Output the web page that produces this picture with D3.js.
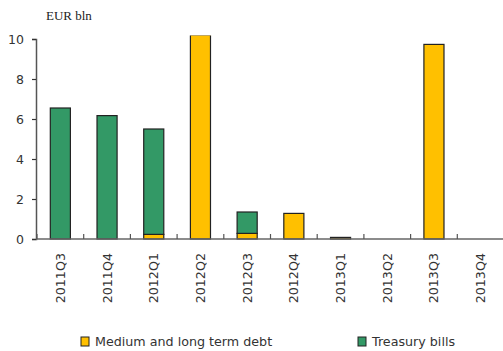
<!DOCTYPE html>
<html><head><meta charset="utf-8">
<script src="https://cdn.jsdelivr.net/npm/d3@7"></script>
<style>body{margin:0;background:#fff}svg{display:block}</style>
</head><body>
<script>
const categories = ["2011Q3","2011Q4","2012Q1","2012Q2","2012Q3","2012Q4","2013Q1","2013Q2","2013Q3","2013Q4"];
const mediumLong = [0, 0, 0.23, 10.2, 0.28, 1.28, 0.08, 0, 9.73, 0];
const treasury   = [6.55, 6.17, 5.27, 0, 1.07, 0, 0, 0, 0, 0];
const yTicks = [0, 2, 4, 6, 8, 10];
const seriesNames = ["Medium and long term debt", "Treasury bills"];
const colors = ["#FFC000", "#339966"];

const W = 503, H = 351;
const svg = d3.select("body").append("svg").attr("width", W).attr("height", H);
const x = d3.scaleBand().domain(categories).range([37, 504]).paddingInner(0.57).paddingOuter(0.285);
const xb = d3.scaleBand().domain(categories).range([37, 504]);
const y = d3.scaleLinear().domain([0, 10]).range([239, 39]);

const gFont = "'DejaVu Sans', sans-serif";

svg.append("defs").append("clipPath").attr("id", "plot")
  .append("rect").attr("x", 0).attr("y", y(10.2) + 0.4).attr("width", W).attr("height", 250);

// bars
const data = categories.map((c, i) => ({c, m: mediumLong[i], t: treasury[i]}));
const stack = d3.stack().keys(["m", "t"])(data);
const barsG = svg.append("g").attr("clip-path", "url(#plot)");
stack.forEach((layer, k) => {
  barsG.append("g").selectAll("rect").data(layer.filter(d => d[1] - d[0] > 0)).join("rect")
    .attr("x", d => x(d.data.c))
    .attr("width", x.bandwidth())
    .attr("y", d => y(d[1]))
    .attr("height", d => y(d[0]) - y(d[1]))
    .attr("fill", colors[k])
    .attr("stroke", "#222")
    .attr("stroke-width", 1.2);
});

// y axis
const ya = svg.append("g").attr("transform", "translate(36,0)")
  .call(d3.axisLeft(y).tickValues(yTicks).tickSize(4).tickPadding(8).tickFormat(d3.format("d")));
ya.select(".domain").attr("stroke", "#555").attr("stroke-width", 1.5);
ya.selectAll(".tick line").attr("stroke", "#333").attr("stroke-width", 1.2);
ya.selectAll("text").attr("font-family", gFont).attr("font-size", 12.5).attr("fill", "#333");

// x axis
const xa = svg.append("g").attr("transform", "translate(0,239)");
xa.append("line").attr("x1", 36).attr("x2", 503).attr("y1", 0).attr("y2", 0).attr("stroke", "#666").attr("stroke-width", 1.5);
xa.selectAll("line.t").data(categories).join("line").attr("class", "t")
  .attr("x1", d => xb(d)).attr("x2", d => xb(d)).attr("y1", -5).attr("y2", 0)
  .attr("stroke", "#555").attr("stroke-width", 1.2);
xa.selectAll("text").data(categories).join("text")
  .attr("transform", d => `translate(${xb(d) + xb.bandwidth()/2 + 4.5},14) rotate(-90)`)
  .attr("text-anchor", "end")
  .attr("font-family", gFont).attr("font-size", 12.7).attr("fill", "#333")
  .text(d => d);

// unit label
svg.append("text").attr("x", 46).attr("y", 20).attr("font-family", "'Liberation Serif', serif")
  .attr("font-size", 13).attr("fill", "#222").text("EUR bln");

// legend
const legX = [81, 358];
seriesNames.forEach((n, i) => {
  const g = svg.append("g").attr("transform", `translate(${legX[i]},337)`);
  g.append("rect").attr("width", 8).attr("height", 9).attr("fill", colors[i]).attr("stroke", "#222").attr("stroke-width", 1);
  g.append("text").attr("x", 14).attr("y", 9).attr("font-family", gFont).attr("font-size", 12.7)
    .attr("fill", "#333").text(n);
});
</script>
</body></html>
